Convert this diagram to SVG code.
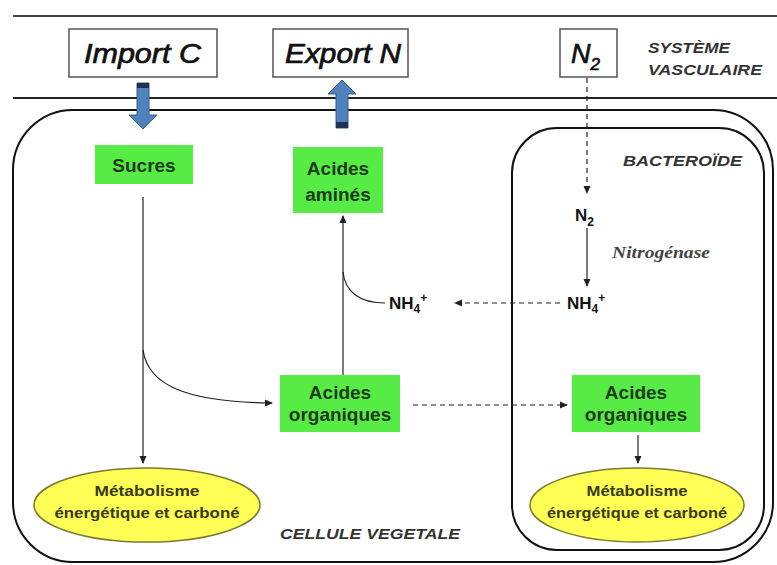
<svg xmlns="http://www.w3.org/2000/svg" width="777" height="565" viewBox="0 0 777 565">
<defs>
<style>
.box{fill:#fff;stroke:#555;stroke-width:1.5}
.big{font-family:"Liberation Sans",Arial,sans-serif;font-style:italic;font-size:27px;fill:#111;stroke:#111;stroke-width:0.7}
.green{fill:#57ec45}
.gt{font-family:"Liberation Sans",Arial,sans-serif;font-weight:bold;font-size:19px;fill:#1c3a1c;text-anchor:middle}
.lbl{font-family:"Liberation Sans",Arial,sans-serif;font-weight:bold;font-style:italic;font-size:15px;fill:#333}
.chem{font-family:"Liberation Sans",Arial,sans-serif;font-weight:bold;font-size:17px;fill:#111}
.ell{fill:#ffff55;stroke:#7a7a30;stroke-width:1.5}
.et{font-family:"Liberation Sans",Arial,sans-serif;font-weight:bold;font-size:15px;fill:#3a3a18;text-anchor:middle}
.ln{fill:none;stroke:#222;stroke-width:1.2}
.dash{fill:none;stroke:#222;stroke-width:1.2;stroke-dasharray:5 4}
.blue{fill:#4f81bd;stroke:#385d8a;stroke-width:1}
</style>
<marker id="ah" markerWidth="8" markerHeight="8" refX="7" refY="4" orient="auto" markerUnits="userSpaceOnUse">
<path d="M0,0.5 L8,4 L0,7.5 Z" fill="#222"/>
</marker>
</defs>
<rect width="777" height="565" fill="#fff"/>
<!-- vascular lines -->
<line x1="13" y1="16" x2="777" y2="16" stroke="#444" stroke-width="2"/>
<line x1="13" y1="98" x2="777" y2="98" stroke="#222" stroke-width="1.8"/>
<!-- compartments -->
<g id="cellule">
<rect x="13" y="110" width="760" height="452" rx="60" fill="none" stroke="#111" stroke-width="2"/>
<text class="lbl" x="280" y="539" textLength="180" lengthAdjust="spacingAndGlyphs">CELLULE VEGETALE</text>
</g>
<g id="bacteroide">
<rect x="512" y="128" width="252" height="422" rx="45" fill="none" stroke="#111" stroke-width="2"/>
<text class="lbl" x="623" y="166" textLength="119" lengthAdjust="spacingAndGlyphs">BACTEROÏDE</text>
</g>
<g id="systeme">
<text class="lbl" x="648" y="53" textLength="82" lengthAdjust="spacingAndGlyphs">SYSTÈME</text>
<text class="lbl" x="648" y="75" textLength="114" lengthAdjust="spacingAndGlyphs">VASCULAIRE</text>
</g>
<!-- top boxes -->
<g id="importC">
<rect class="box" x="69" y="29" width="148" height="48"/>
<text class="big" x="84" y="63" textLength="117" lengthAdjust="spacingAndGlyphs">Import C</text>
</g>
<g id="exportN">
<rect class="box" x="273" y="29" width="135" height="48"/>
<text class="big" x="285" y="63" textLength="116" lengthAdjust="spacingAndGlyphs">Export N</text>
</g>
<g id="n2top">
<rect class="box" x="560" y="29" width="57" height="48"/>
<text class="big" x="571" y="63" font-size="25">N<tspan font-size="17" dy="7">2</tspan></text>
</g>
<!-- blue arrows -->
<g id="arrowImport">
<path class="blue" d="M137,83 H149 V115 H157 L143,129 L129,115 H137 Z"/>
<rect x="137" y="83" width="12" height="5" fill="#1f3050"/>
</g>
<g id="arrowExport">
<path class="blue" d="M336,128 V94 H328 L342,80 L356,94 H348 V128 Z"/>
<rect x="336" y="122" width="12" height="6" fill="#1f3050"/>
</g>
<!-- nodes -->
<g id="sucres">
<rect class="green" x="95" y="145" width="98" height="39"/>
<text class="gt" x="144" y="172">Sucres</text>
</g>
<g id="acidesAmines">
<rect class="green" x="293" y="147" width="90" height="66"/>
<text class="gt" x="338" y="175">Acides</text>
<text class="gt" x="338" y="201">aminés</text>
</g>
<g id="acidesOrgPlante">
<rect class="green" x="280" y="375" width="120" height="57"/>
<text class="gt" x="340" y="399">Acides</text>
<text class="gt" x="340" y="421">organiques</text>
</g>
<g id="acidesOrgBact">
<rect class="green" x="572" y="375" width="128" height="57"/>
<text class="gt" x="636" y="399">Acides</text>
<text class="gt" x="636" y="421">organiques</text>
</g>
<g id="metabPlante">
<ellipse class="ell" cx="147" cy="505" rx="113" ry="37"/>
<text class="et" x="147" y="496" textLength="105" lengthAdjust="spacingAndGlyphs">Métabolisme</text>
<text class="et" x="147" y="518" textLength="185" lengthAdjust="spacingAndGlyphs">énergétique et carboné</text>
</g>
<g id="metabBact">
<ellipse class="ell" cx="637" cy="505" rx="107" ry="37"/>
<text class="et" x="637" y="496" textLength="101" lengthAdjust="spacingAndGlyphs">Métabolisme</text>
<text class="et" x="637" y="518" textLength="180" lengthAdjust="spacingAndGlyphs">énergétique et carboné</text>
</g>
<g id="n2bact">
<text class="chem" x="575" y="221">N<tspan font-size="12" dy="5">2</tspan></text>
</g>
<g id="nh4bact">
<text class="chem" x="567" y="309">NH<tspan font-size="12" dy="4">4</tspan><tspan font-size="12" dy="-11">+</tspan></text>
</g>
<g id="nh4plante">
<text class="chem" x="389" y="309">NH<tspan font-size="12" dy="4">4</tspan><tspan font-size="12" dy="-11">+</tspan></text>
</g>
<g id="nitrogenase">
<text x="612" y="258" font-family="'Liberation Serif','Times New Roman',serif" font-style="italic" font-weight="bold" font-size="17" fill="#444" textLength="98" lengthAdjust="spacingAndGlyphs">Nitrogénase</text>
</g>
<!-- connectors -->
<g id="connectors">
<path class="ln" d="M143,197 V463" marker-end="url(#ah)"/>
<path class="ln" d="M143,350 C148,385 185,402 272,403" marker-end="url(#ah)"/>
<path class="ln" d="M343,375 V216" marker-end="url(#ah)"/>
<path class="ln" d="M343,272 C345,292 360,303 385,303"/>
<path class="dash" d="M587,78 V193" marker-end="url(#ah)"/>
<path class="ln" d="M587,228 V286" marker-end="url(#ah)"/>
<path class="dash" d="M560,303 H455" marker-end="url(#ah)"/>
<path class="dash" d="M413,405 H567" marker-end="url(#ah)"/>
<path class="ln" d="M638,435 V463" marker-end="url(#ah)"/>
</g>
</svg>
